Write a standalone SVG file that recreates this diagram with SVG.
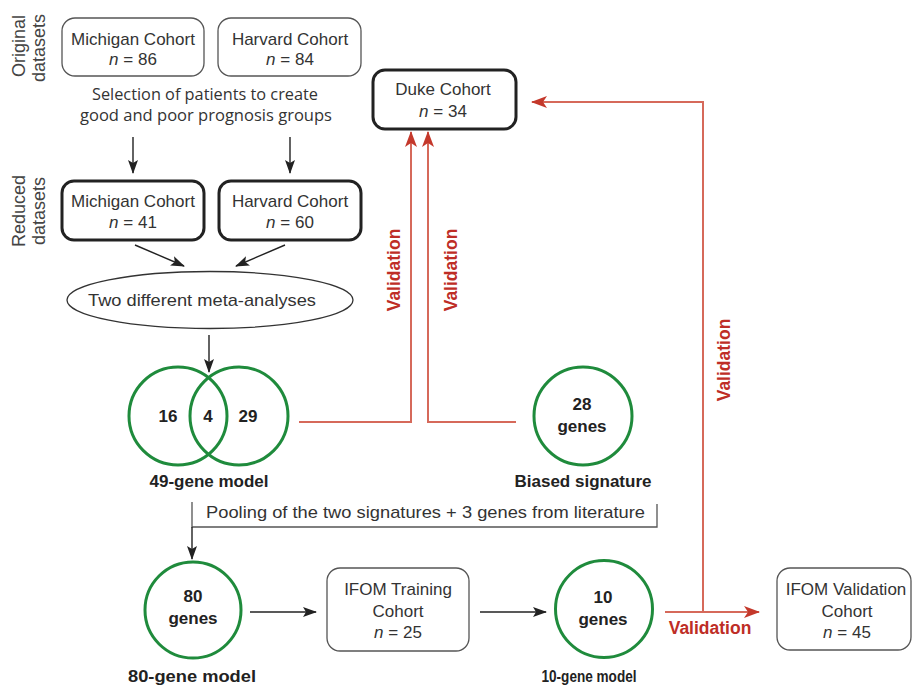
<svg xmlns="http://www.w3.org/2000/svg" width="913" height="686" viewBox="0 0 913 686">
<style>
  text { font-family: "Liberation Sans", Arial, sans-serif; fill: #333; }
  .t17 { font-size: 17px; text-anchor: middle; }
  .side { font-size: 18px; text-anchor: middle; fill: #444; }
  .bold { font-size: 17px; font-weight: bold; text-anchor: middle; fill: #222; }
  .hum { font-family: "Open Sans", "Noto Sans", sans-serif; font-size: 16px; text-anchor: middle; fill: #333; }
  .val { font-size: 17.5px; font-weight: bold; fill: #be2d26; text-anchor: middle; }
  .thin { fill: #fff; stroke: #555; stroke-width: 1.3; }
  .thick { fill: #fff; stroke: #222; stroke-width: 3; }
  .green { fill: none; stroke: #1f8b3c; stroke-width: 3; }
  .blk { fill: none; stroke: #222; stroke-width: 1.4; }
  .red { fill: none; stroke: #d6695a; stroke-width: 2; }
  .brk { fill: none; stroke: #555; stroke-width: 1.3; }
</style>
<defs>
  <marker id="ah" viewBox="0 0 14 10" refX="13" refY="5" markerWidth="14" markerHeight="10" markerUnits="userSpaceOnUse" orient="auto">
    <path d="M0,0 L14,5 L0,10 L3,5 Z" fill="#222"/>
  </marker>
  <marker id="ahr" viewBox="0 0 16 12" refX="15" refY="6" markerWidth="16" markerHeight="12" markerUnits="userSpaceOnUse" orient="auto">
    <path d="M0,0 L16,6 L0,12 L4,6 Z" fill="#c4382b"/>
  </marker>
</defs>

<!-- side labels -->
<g id="label-original">
  <text class="side" transform="translate(25,46) rotate(-90)">Original</text>
  <text class="side" transform="translate(45,48) rotate(-90)">datasets</text>
</g>
<g id="label-reduced">
  <text class="side" transform="translate(25,211) rotate(-90)">Reduced</text>
  <text class="side" transform="translate(45,211) rotate(-90)">datasets</text>
</g>

<g id="michigan-orig">
  <rect class="thin" x="62" y="18" width="142" height="58" rx="13"/>
  <text class="t17" x="133" y="45">Michigan Cohort</text>
  <text class="t17" x="133" y="65"><tspan font-style="italic">n</tspan> = 86</text>
</g>
<g id="harvard-orig">
  <rect class="thin" x="218" y="18" width="143" height="58" rx="13"/>
  <text class="t17" x="290" y="45">Harvard Cohort</text>
  <text class="t17" x="290" y="65"><tspan font-style="italic">n</tspan> = 84</text>
</g>

<g id="selection-text">
  <text class="hum" x="205" y="100" textLength="226" lengthAdjust="spacingAndGlyphs">Selection of patients to create</text>
  <text class="hum" x="206" y="121" textLength="252" lengthAdjust="spacingAndGlyphs">good and poor prognosis groups</text>
</g>

<g id="michigan-red">
  <rect class="thick" x="62" y="181" width="142" height="59" rx="12"/>
  <text class="t17" x="133" y="207">Michigan Cohort</text>
  <text class="t17" x="133" y="228"><tspan font-style="italic">n</tspan> = 41</text>
</g>
<g id="harvard-red">
  <rect class="thick" x="219" y="181" width="142" height="59" rx="12"/>
  <text class="t17" x="290" y="207">Harvard Cohort</text>
  <text class="t17" x="290" y="228"><tspan font-style="italic">n</tspan> = 60</text>
</g>

<g id="duke">
  <rect class="thick" x="373" y="70" width="143" height="59" rx="12"/>
  <text class="t17" x="443" y="95" font-size="17.5">Duke Cohort</text>
  <text class="t17" x="443" y="117"><tspan font-style="italic">n</tspan> = 34</text>
</g>

<g id="meta">
  <ellipse cx="210" cy="300" rx="143" ry="28.5" fill="#fff" stroke="#333" stroke-width="1.3"/>
  <text class="t17" x="202" y="306" textLength="228" lengthAdjust="spacingAndGlyphs">Two different meta-analyses</text>
</g>

<g id="venn-49">
  <circle class="green" cx="178" cy="416" r="49"/>
  <circle class="green" cx="239" cy="416" r="49"/>
  <text class="bold" x="168" y="422">16</text>
  <text class="bold" x="208" y="422">4</text>
  <text class="bold" x="248" y="422">29</text>
  <text class="bold" x="209" y="487">49-gene model</text>
</g>

<g id="biased">
  <circle class="green" cx="583" cy="416" r="49"/>
  <text class="bold" x="582" y="410">28</text>
  <text class="bold" x="582" y="432">genes</text>
  <text class="bold" x="583" y="487">Biased signature</text>
</g>

<g id="pooling">
  <text x="206" y="518" font-size="17" textLength="439" lengthAdjust="spacingAndGlyphs">Pooling of the two signatures + 3 genes from literature</text>
</g>

<g id="model-80">
  <circle class="green" cx="193" cy="610" r="48"/>
  <text class="bold" x="193" y="602">80</text>
  <text class="bold" x="193" y="624">genes</text>
  <text class="bold" x="192" y="682" font-size="16" textLength="128" lengthAdjust="spacingAndGlyphs">80-gene model</text>
</g>

<g id="ifom-training">
  <rect class="thin" x="327" y="568" width="142" height="83" rx="13"/>
  <text class="t17" x="398" y="595">IFOM Training</text>
  <text class="t17" x="398" y="617">Cohort</text>
  <text class="t17" x="398" y="638"><tspan font-style="italic">n</tspan> = 25</text>
</g>

<g id="model-10">
  <circle class="green" cx="604" cy="609" r="48.5"/>
  <text class="bold" x="603" y="603">10</text>
  <text class="bold" x="603" y="625">genes</text>
  <text class="bold" x="589" y="682" font-size="16" textLength="95" lengthAdjust="spacingAndGlyphs">10-gene model</text>
</g>

<g id="ifom-validation">
  <rect class="thin" x="777" y="568" width="134" height="82" rx="13"/>
  <text class="t17" x="846" y="595">IFOM Validation</text>
  <text class="t17" x="847" y="617">Cohort</text>
  <text class="t17" x="847" y="638"><tspan font-style="italic">n</tspan> = 45</text>
</g>

<g id="connectors">
  <line class="blk" x1="133" y1="137" x2="133" y2="173" marker-end="url(#ah)"/>
  <line class="blk" x1="290" y1="137" x2="290" y2="173" marker-end="url(#ah)"/>
  <line class="blk" x1="135" y1="245" x2="184" y2="266" marker-end="url(#ah)"/>
  <line class="blk" x1="285" y1="245" x2="236" y2="266" marker-end="url(#ah)"/>
  <line class="blk" x1="209" y1="335" x2="209" y2="372" marker-end="url(#ah)"/>
  <polyline class="brk" points="192,502 192,527 657,527 657,504"/>
  <line class="blk" x1="192" y1="527" x2="192" y2="559" marker-end="url(#ah)"/>
  <line class="blk" x1="250" y1="612" x2="316" y2="612" marker-end="url(#ah)"/>
  <line class="blk" x1="480" y1="612" x2="546" y2="612" marker-end="url(#ah)"/>

  <polyline class="red" points="299,422 411,422 411,132" marker-end="url(#ahr)"/>
  <polyline class="red" points="516,422 428,422 428,132" marker-end="url(#ahr)"/>
  <line class="red" x1="665" y1="612" x2="759" y2="612" marker-end="url(#ahr)"/>
  <polyline class="red" points="703,612 703,102 532,102" marker-end="url(#ahr)"/>

  <text class="val" transform="translate(400,270) rotate(-90)">Validation</text>
  <text class="val" transform="translate(457,270) rotate(-90)">Validation</text>
  <text class="val" transform="translate(730,360) rotate(-90)">Validation</text>
  <text class="val" x="710" y="634">Validation</text>
</g>
</svg>
